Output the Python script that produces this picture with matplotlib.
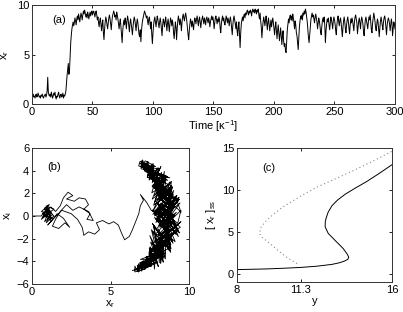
import numpy as np
import matplotlib
matplotlib.use("Agg")
import matplotlib.pyplot as plt

plt.rcParams['font.family'] = ['Liberation Sans', 'DejaVu Sans']
plt.rcParams['font.size'] = 8
plt.rcParams['mathtext.fontset'] = 'custom'
plt.rcParams['mathtext.rm'] = 'Liberation Sans'
plt.rcParams['mathtext.it'] = 'Liberation Sans'

# ---------------- panel (a): x_r time series (t = 0..300, step 0.5) ----------------
time_xr = [
    0.8, 0.9, 1.0, 0.7, 0.8, 0.6, 0.9, 1.0, 0.7, 0.8, 1.1, 0.9, 0.7, 0.8, 0.6, 0.9, 0.8, 1.0, 0.7, 0.6,
    0.8, 0.9, 1.0, 0.7, 0.9, 1.3, 2.7, 1.2, 0.9, 0.8, 1.0, 0.7, 1.2, 0.9, 0.6, 0.8, 1.1, 0.9, 1.2, 0.7,
    0.5, 0.8, 0.7, 1.0, 1.2, 0.8, 0.6, 0.9, 1.0, 0.7, 0.8, 1.1, 0.6, 0.9, 0.8, 1.0, 1.3, 2.1, 2.9, 3.5,
    4.1, 3.0, 3.4, 4.8, 6.2, 7.0, 7.6, 8.0, 8.3, 7.9, 8.2, 8.7, 8.4, 8.0, 8.6, 8.9, 8.5, 9.1, 8.7, 8.3,
    8.8, 9.2, 8.9, 8.5, 9.0, 9.4, 9.1, 9.5, 9.2, 8.8, 9.1, 8.7, 9.3, 9.0, 8.6, 9.0, 9.3, 8.9, 9.2, 9.4,
    9.0, 9.3, 9.4, 9.1, 8.8, 9.2, 9.4, 9.0, 8.5, 8.8, 8.2, 7.8, 8.4, 8.7, 8.0, 7.4, 8.1, 8.5, 7.2, 6.5,
    7.6, 8.3, 8.8, 8.5, 8.0, 7.6, 8.2, 8.7, 9.0, 8.6, 8.1, 7.5, 8.3, 8.9, 9.1, 9.4, 9.2, 8.8, 9.0, 8.5,
    9.3, 9.0, 8.6, 8.1, 7.6, 8.2, 8.6, 7.8, 7.0, 6.2, 7.4, 8.1, 8.5, 8.0, 8.7, 8.3, 7.6, 8.4, 8.9, 8.5,
    7.9, 7.3, 8.2, 8.6, 8.1, 7.5, 7.0, 7.8, 8.4, 8.8, 8.5, 8.0, 7.4, 8.1, 8.6, 8.2, 7.6, 7.0, 6.8, 7.5,
    6.3, 7.4, 8.1, 8.5, 8.8, 9.1, 9.4, 9.2, 9.0, 8.7, 8.9, 8.4, 8.0, 8.6, 8.8, 8.2, 7.6, 8.3, 7.0, 6.1,
    7.2, 8.0, 8.5, 8.8, 8.3, 7.8, 8.4, 8.9, 8.6, 8.1, 7.7, 8.3, 8.7, 8.2, 7.5, 6.9, 8.0, 8.6, 8.3, 7.8,
    8.4, 8.8, 8.1, 7.4, 8.2, 8.6, 8.0, 7.3, 8.1, 8.7, 8.4, 7.9, 8.5, 8.1, 7.2, 6.6, 7.5, 8.3, 7.8, 6.5,
    7.6, 8.4, 8.9, 8.5, 8.0, 8.6, 8.2, 7.4, 8.3, 8.8, 9.1, 8.7, 8.4, 8.9, 9.2, 8.8, 8.3, 7.6, 7.0, 6.5,
    7.4, 8.1, 8.6, 8.3, 7.8, 8.4, 8.0, 7.5, 8.2, 8.7, 8.5, 8.1, 8.6, 8.9, 8.4, 7.9, 8.5, 8.8, 8.2, 7.7,
    8.3, 8.6, 8.9, 8.5, 8.1, 8.7, 8.4, 8.0, 8.6, 8.8, 8.5, 8.2, 8.7, 8.4, 7.8, 8.3, 8.6, 8.9, 8.5, 8.8,
    8.4, 7.6, 8.2, 8.7, 8.9, 8.5, 8.1, 8.6, 8.3, 8.8, 8.5, 7.7, 7.2, 8.1, 8.6, 8.9, 8.4, 8.7, 8.2, 8.0,
    8.5, 8.9, 8.6, 8.2, 8.7, 8.4, 7.9, 8.5, 8.8, 8.3, 7.6, 7.0, 8.0, 8.6, 8.9, 8.5, 8.1, 7.6, 8.3, 7.4,
    6.9, 7.8, 8.3, 7.1, 5.7, 7.2, 8.1, 8.5, 8.8, 8.4, 8.9, 9.1, 8.7, 9.2, 9.0, 9.3, 9.5, 9.2, 9.0, 9.4,
    9.2, 9.5, 9.3, 8.9, 9.4, 9.6, 9.3, 9.5, 9.2, 9.6, 9.4, 9.1, 9.5, 9.3, 9.6, 9.0, 8.6, 9.2, 8.4, 7.8,
    6.7, 7.6, 8.3, 8.8, 8.4, 7.9, 8.5, 8.9, 8.2, 7.5, 8.3, 8.7, 8.1, 7.4, 8.0, 8.5, 7.8, 8.3, 8.7, 8.2,
    7.6, 7.0, 7.8, 8.3, 7.5, 6.6, 7.4, 8.0, 7.2, 6.4, 7.1, 7.7, 6.8, 6.0, 6.9, 7.4, 6.3, 5.8, 6.1, 5.4,
    5.2, 6.3, 7.5, 8.1, 8.6, 8.2, 8.8, 9.0, 8.5, 8.9, 8.4, 9.1, 8.7, 8.2, 7.6, 8.4, 8.0, 7.2, 6.9, 6.2,
    5.5, 6.6, 7.8, 8.4, 8.9, 8.6, 9.0, 8.5, 9.2, 9.0, 9.4, 9.1, 9.6, 9.3, 8.8, 8.3, 7.5, 6.7, 6.2, 7.0,
    7.9, 8.5, 8.9, 9.2, 8.8, 9.0, 8.6, 8.2, 8.8, 9.1, 8.7, 8.3, 7.6, 8.2, 8.7, 8.4, 7.9, 7.3, 7.0, 7.8,
    8.4, 8.7, 8.3, 8.8, 7.9, 6.2, 7.4, 8.1, 8.6, 8.3, 8.7, 8.0, 7.5, 8.2, 8.8, 8.5, 8.1, 7.6, 8.4, 8.8,
    8.5, 8.1, 7.4, 7.0, 8.0, 8.6, 8.9, 8.3, 7.9, 8.5, 8.7, 8.2, 7.5, 6.8, 7.7, 8.4, 8.8, 8.3, 7.6, 7.2,
    8.0, 8.5, 8.8, 8.3, 7.6, 7.1, 8.0, 8.6, 8.2, 8.7, 8.4, 7.9, 7.4, 8.3, 8.8, 9.0, 8.6, 8.2, 7.1, 7.8,
    8.4, 8.7, 8.2, 7.6, 8.4, 8.8, 8.5, 8.1, 7.3, 6.9, 7.8, 8.5, 8.8, 8.4, 8.0, 7.6, 8.3, 8.8, 8.5, 9.0,
    8.3, 7.5, 7.2, 8.2, 8.7, 9.2, 8.8, 8.3, 7.7, 7.4, 8.1, 8.6, 8.3, 7.5, 6.8, 7.7, 8.4, 8.8, 8.4, 7.9,
    7.5, 8.3, 8.7, 8.9, 8.5, 7.7, 7.0, 7.9, 8.4, 8.7, 8.5, 8.1, 7.4, 8.0, 8.6, 8.2, 6.9, 7.6, 8.3, 8.1,
    7.6,
]
time_step = 0.5

# ---------------- panel (b): phase-space trajectory ----------------
# initial wandering part (x_r, x_i)
wander_xr = [0.0, 0.6, 0.7, 1.1, 0.8, 1.2, 0.6, 1.0, 1.3, 0.8, 1.1, 0.7, 1.2, 0.9, 1.4,
             0.7, 1.0, 1.3, 0.8, 1.1, 0.6, 1.2, 0.9, 1.4, 1.0, 0.7, 1.2, 1.5,
             1.8, 2.0, 2.3, 2.6, 2.2, 2.7, 3.0, 3.4, 3.6, 3.3, 3.7, 3.5, 3.9, 3.6, 3.0,
             2.6, 2.2, 1.8, 1.5, 1.3, 1.7, 2.1, 2.4, 2.0, 1.6, 1.2, 1.0, 1.4, 1.9, 2.5,
             2.9, 3.2, 3.3, 3.6, 4.0, 4.3, 4.1, 4.5, 4.9, 5.2, 5.5, 5.7, 5.9, 6.2, 6.4,
             6.6, 6.8, 6.9, 7.1, 6.9, 7.3, 7.6]
wander_xi = [0.0, 0.0, 0.3, -0.2, 0.6, 0.4, -0.3, 0.8, 0.1, -0.5, 0.5, 0.1, -0.4, 0.9, 0.6,
             -0.1, 0.3, -0.3, 0.7, 1.0, 0.4, 0.2, -0.6, 0.0, 0.6, 0.2, 0.8, 0.4,
             0.9, 1.6, 2.1, 1.8, 1.5, 1.3, 1.6, 1.5, 1.0, 0.6, 0.2, -0.3, -0.4, 0.4, 0.8,
             0.5, 1.0, 0.4, -0.3, -0.9, -1.1, -0.6, -1.0, -0.2, 0.2, -0.5, -0.8, -0.2, 0.5, 0.2,
             -0.3, -1.0, -1.7, -1.4, -1.6, -1.2, -0.6, -0.4, -0.7, -0.5, -0.8, -1.5, -2.1, -1.8, -1.2,
             -0.5, 0.2, 0.9, 1.4, 1.9, 1.2, 0.5]

# crescent: amplitude r and phase (degrees)
crescent_deg = [
    0, 4, 2, 7, 5, 9, 13, 10, 12, 16, 14, 19, 17, 15, 20, 24, 21, 25, 23, 27,
    30, 26, 29, 33, 31, 35, 32, 34, 29, 31, 27, 24, 28, 25, 21, 23, 19, 22, 17, 13,
    16, 12, 9, 11, 7, 10, 5, 2, 6, 1, 3, -2, -5, -1, -4, -8, -6, -11, -9, -13,
    -16, -12, -15, -19, -17, -21, -18, -23, -26, -22, -25, -29, -27, -31, -28, -33, -30, -35, -32, -36,
    -34, -37, -33, -30, -34, -28, -31, -26, -29, -24, -21, -25, -20, -23, -18, -15, -19, -14, -17, -12,
    -9, -13, -8, -11, -6, -3, -7, -2, -5, 0, 3, -1, 4, 1, 6, 9, 5, 8, 12, 10,
    14, 11, 16, 19, 15, 18, 22, 20, 24, 21, 26, 29, 25, 28, 32, 30, 34, 31, 35, 33,
    29, 32, 27, 30, 25, 22, 26, 20, 23, 18, 15, 19, 13, 16, 11, 14, 8, 12, 6, 9,
    4, 7, 1, 5, -1, 2, -4, -2, -7, -3, -9, -6, -12, -10, -14, -11, -17, -13, -20, -16,
    -22, -19, -25, -21, -27, -24, -30, -26, -32, -29, -35, -31, -36, -33, -29, -34, -27, -31, -24, -28,
    -22, -26, -19, -23, -16, -20, -13, -17, -10, -14, -7, -11, -4, -8, -1, -5, 2, -2, 5, 1,
    8, 4, 11, 7, 14, 10, 17, 13, 20, 16, 23, 19, 26, 22, 29, 25, 32, 28, 34, 30,
    35, 31, 33, 28, 31, 25, 28, 22, 25, 19, 22, 16, 19, 13, 16, 10, 13, 7, 10, 4,
    7, 1, 4, -2, 1, -5, -2, -8, -5, -11, -8, -14, -11, -17, -14, -20, -17, -23, -20, -26,
    -23, -29, -26, -32, -29, -35, -31, -37, -33, -30, -34, -27, -31, -24, -28, -21, -25, -18, -22, -15,
    -19, -12, -16, -9, -13, -6, -10, -3, -7, 0, -4, 3, -1, 6, 2, 9, 5, 12, 8, 15,
    11, 18, 14, 21, 17, 24, 20, 27, 23, 30, 26, 33, 29, 35, 31, 27, 32, 24, 28, 21,
    25, 18, 22, 15, 19, 12, 16, 9, 13, 6, 10, 3, 7, 0, 4, -3, 1, -6, -2, -9,
    -5, -12, -8, -15, -11, -18, -14, -21, -17, -24, -20, -27, -23, -30, -26, -33, -29, -36, -32, -28,
    -34, -25, -30, -22, -27, -19, -24, -16, -21, -13, -18, -10, -15, -7, -12, -4, -9, -1, -6, 2,
    -3, 5, 0, 8, 3, 11, 6, 14, 9, 17, 12, 20, 15, 23, 18, 26, 21, 29, 24, 32,
    27, 34, 30, 26, 31, 23, 28, 20, 25, 17, 22, 14, 19, 11, 16, 8, 13, 5, 10, 2,
    7, -1, 4, -4, 1, -7, -2, -10, -5, -13, -8, -16, -11, -19, -14, -22, -17, -25, -20, -28,
    -23, -31, -26, -34, -29, -36, -32, -27, -33, -24, -30, -21, -27, -18, -24, -15, -21, -12, -18, -9,
    -15, -6, -12, -3, -9, 0, -6, 3, -3, 6, 0, 9, 3, 12, 6, 15, 9, 18, 12, 20,
]
crescent_r = [
    8.3, 8.8, 8.5, 9.1, 8.7, 9.3, 8.9, 8.4, 8.8, 9.2, 8.6, 8.1, 8.5, 7.9, 8.3, 8.7, 8.2, 8.6, 8.1, 8.5,
    8.2, 8.7, 8.4, 8.8, 8.3, 8.6, 8.2, 8.7, 9.0, 8.5, 9.1, 8.7, 9.3, 8.8, 9.4, 8.9, 8.4, 9.0, 8.5, 8.0,
    8.6, 9.2, 8.7, 9.4, 8.9, 9.5, 9.0, 8.5, 9.1, 8.6, 8.1, 8.7, 8.2, 7.8, 8.4, 8.9, 8.3, 8.8, 9.3, 8.7,
    9.2, 8.6, 9.1, 8.5, 8.0, 8.6, 8.1, 8.7, 8.2, 8.8, 8.3, 7.9, 8.4, 8.0, 8.5, 8.1, 8.6, 8.2, 8.0, 8.3,
    7.9, 8.2, 8.6, 8.1, 8.5, 8.9, 8.3, 8.8, 9.2, 8.6, 9.1, 8.5, 8.0, 8.6, 9.2, 8.7, 9.3, 8.8, 8.2, 8.7,
    9.3, 8.8, 9.4, 8.9, 9.5, 9.0, 8.4, 7.9, 8.5, 9.1, 8.6, 8.0, 7.7, 8.3, 8.9, 8.4, 9.0, 9.4, 8.8, 8.2,
    8.7, 9.2, 8.6, 8.1, 8.6, 9.1, 8.5, 8.9, 8.3, 8.7, 8.2, 8.6, 8.1, 8.5, 8.2, 8.7, 8.3, 8.6, 8.4, 8.1,
    8.6, 8.2, 8.8, 8.3, 8.9, 9.3, 8.7, 9.2, 8.6, 8.1, 8.7, 9.3, 8.8, 8.2, 7.8, 8.4, 9.0, 8.5, 9.1, 9.5,
    8.9, 8.3, 7.8, 8.4, 9.0, 8.5, 7.9, 8.5, 9.1, 9.5, 8.9, 8.4, 8.0, 8.6, 9.2, 8.7, 8.1, 7.7, 8.3, 8.8,
    8.3, 8.9, 8.4, 8.0, 8.5, 8.9, 8.4, 8.1, 8.6, 8.2, 8.5, 8.1, 8.4, 8.0, 8.5, 8.2, 8.7, 8.3, 8.8, 8.4,
    8.9, 9.3, 8.7, 8.2, 8.8, 9.4, 8.9, 8.3, 7.8, 8.4, 9.0, 9.5, 9.0, 8.5, 8.0, 8.6, 9.2, 8.6, 8.1, 7.7,
    8.3, 8.9, 9.4, 8.8, 8.3, 8.9, 9.3, 8.7, 8.2, 8.8, 8.3, 8.7, 8.2, 8.6, 8.3, 8.7, 8.4, 8.8, 8.5, 8.2,
    8.6, 8.3, 8.8, 8.4, 9.0, 8.5, 9.1, 8.6, 8.1, 8.7, 9.2, 8.6, 8.1, 8.7, 9.3, 8.8, 8.2, 7.8, 8.4, 9.0,
    9.5, 8.9, 8.4, 7.9, 8.5, 9.1, 8.6, 8.0, 7.7, 8.3, 8.9, 9.4, 8.8, 8.3, 8.9, 8.4, 7.9, 8.5, 9.0, 8.5,
    8.9, 8.4, 8.7, 8.2, 8.6, 8.1, 8.5, 8.0, 8.4, 8.8, 8.3, 8.7, 9.1, 8.6, 9.0, 8.5, 9.1, 8.6, 8.1, 8.7,
    9.2, 8.7, 8.1, 7.7, 8.2, 8.8, 9.3, 8.8, 8.2, 8.7, 9.3, 9.5, 9.0, 8.4, 7.9, 8.5, 9.0, 8.6, 8.1, 8.6,
    9.0, 8.5, 9.0, 8.6, 8.2, 8.7, 8.3, 8.7, 8.4, 8.8, 8.3, 8.6, 8.2, 8.5, 8.1, 8.6, 8.2, 8.8, 8.4, 8.9,
    9.3, 8.8, 8.3, 8.8, 9.4, 8.9, 8.4, 7.9, 8.5, 9.1, 9.5, 8.9, 8.3, 7.8, 8.4, 9.0, 8.6, 8.1, 8.7, 9.2,
    8.7, 8.2, 8.8, 9.3, 8.8, 8.3, 8.8, 8.4, 8.9, 8.4, 8.0, 8.5, 8.1, 8.6, 8.2, 8.5, 8.1, 8.4, 8.0, 8.5,
    8.1, 8.6, 8.2, 8.7, 9.1, 8.6, 9.2, 8.7, 8.2, 8.8, 9.3, 8.8, 8.2, 7.8, 8.4, 9.0, 9.5, 8.9, 8.4, 8.0,
    8.6, 9.1, 8.6, 8.1, 7.7, 8.2, 8.8, 9.3, 8.7, 8.2, 8.8, 8.3, 8.9, 8.4, 8.8, 8.3, 8.7, 8.2, 8.6, 8.3,
    8.7, 8.4, 8.8, 8.5, 8.9, 8.4, 9.0, 8.5, 9.1, 8.6, 9.2, 8.7, 8.1, 8.7, 9.3, 8.8, 8.2, 8.7, 9.3, 9.5,
    9.0, 8.4, 7.9, 8.5, 9.0, 8.6, 8.1, 8.7, 9.2, 8.6, 8.1, 8.6, 9.1, 8.5, 8.9, 8.4, 8.8, 8.3, 8.7, 8.3,
    8.7, 8.2, 8.6, 8.2, 8.5, 8.1, 8.5, 8.9, 8.4, 8.9, 8.3, 8.8, 9.2, 8.7, 9.3, 8.8, 8.2, 8.7, 9.3, 8.8,
    8.2, 7.8, 8.4, 9.0, 9.5, 8.9, 8.4, 7.9, 8.5, 9.1, 8.6, 8.0, 8.6, 9.1, 8.6, 8.2, 8.8, 8.3, 8.7, 8.4,
]

# ---------------- panel (c): steady-state curves ----------------
solid_y = [8.0, 9.0, 9.54, 10.4, 11.3, 12.1, 12.9, 13.3, 13.55, 13.72, 13.77, 13.7, 13.48,
           13.05, 12.71, 12.55, 12.56, 12.6, 12.7, 12.9, 13.2, 13.6, 14.1, 14.7, 15.3, 16.0]
solid_x = [0.48, 0.53, 0.56, 0.64, 0.74, 0.88, 1.1, 1.3, 1.5, 1.7, 1.95, 2.3, 3.0,
           4.0, 4.8, 5.6, 6.2, 6.6, 7.3, 8.1, 8.8, 9.5, 10.2, 11.0, 11.9, 13.0]
dotted_y = [11.1, 10.6, 10.1, 9.54, 9.25, 9.16, 9.25, 9.54, 10.0, 10.4, 11.25, 12.1,
            12.97, 14.0, 15.0, 16.0]
dotted_x = [1.2, 1.9, 2.8, 3.9, 4.4, 4.8, 5.6, 6.4, 7.3, 8.0, 9.2, 10.3,
            11.2, 12.3, 13.4, 14.6]

fig = plt.figure(figsize=(4.03, 3.12), dpi=100)
axa = fig.add_axes([0.0794, 0.6667, 0.9007, 0.317])
axb = fig.add_axes([0.0794, 0.0897, 0.3896, 0.436])
axc = fig.add_axes([0.588, 0.0962, 0.3846, 0.4295])

for ax in (axa, axb, axc):
    ax.tick_params(direction='in', top=True, right=True, length=2.5, width=0.6,
                   labelsize=8, pad=2)
    for s in ax.spines.values():
        s.set_linewidth(0.7)
        s.set_color('#333333')

# (a)
time_t = np.arange(len(time_xr)) * time_step
axa.plot(time_t, time_xr, color='black', lw=0.7)
axa.set_xlim(0, 300)
axa.set_ylim(0, 10)
axa.set_xticks([0, 50, 100, 150, 200, 250, 300])
axa.set_yticks([0, 5, 10])
axa.set_xlabel('Time [κ$^{-1}$]', labelpad=1)
axa.set_ylabel('x$_r$', labelpad=4)
axa.text(17, 8.2, '(a)', fontsize=8)

# (b)
n = min(len(crescent_deg), len(crescent_r))
deg = np.radians(np.array(crescent_deg[:n], dtype=float))
rr = np.array(crescent_r[:n], dtype=float)
bx = np.concatenate([wander_xr, rr * np.cos(deg)])
by = np.concatenate([wander_xi, rr * np.sin(deg)])
axb.plot(bx, by, color='black', lw=0.6)
axb.set_xlim(0, 10)
axb.set_ylim(-6, 6)
axb.set_xticks([0, 5, 10])
axb.set_yticks([-6, -4, -2, 0, 2, 4, 6])
axb.set_xlabel('x$_r$', labelpad=1)
axb.set_ylabel('x$_i$', labelpad=2)
axb.text(1.0, 4.1, '(b)', fontsize=8)

# (c)
axc.plot(solid_y, solid_x, color='black', lw=0.7)
axc.plot(dotted_y, dotted_x, color='#888888', lw=0.8, linestyle=(0, (1, 2.5)))
axc.set_xlim(8, 16)
axc.set_ylim(-1, 15)
axc.set_xticks([8, 11.3, 16])
axc.set_xticklabels(['8', '11.3', '16'])
axc.set_yticks([0, 5, 10, 15])
axc.set_xlabel('y', labelpad=1)
axc.set_ylabel('[ x$_r$ ]$_{ss}$', labelpad=3)
axc.text(9.3, 12.3, '(c)', fontsize=8)

fig.savefig('out.png', dpi=100)
